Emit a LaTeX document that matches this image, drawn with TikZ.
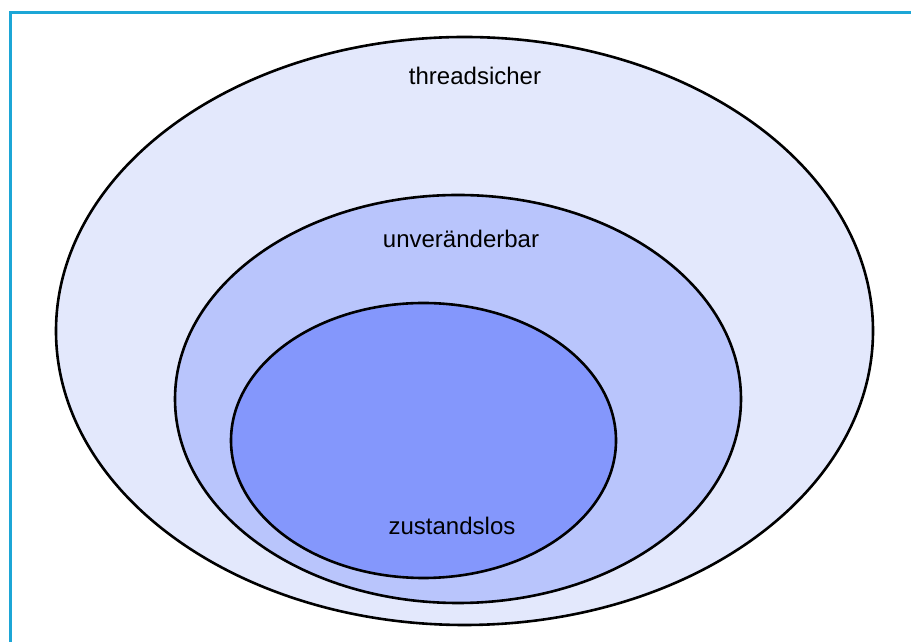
\documentclass[tikz,border=0pt]{standalone}
\usepackage{fontspec}
\setmainfont{Liberation Sans}
\usetikzlibrary{shapes.geometric}
\definecolor{frameblue}{RGB}{28,166,214}
\definecolor{setA}{RGB}{227,232,252}
\definecolor{setB}{RGB}{185,197,252}
\definecolor{setC}{RGB}{132,151,252}
\tikzset{
  setoval/.style={ellipse, draw=black, line width=2.6pt, inner sep=0pt},
  setlabel/.style={font=\fontsize{24}{28}\selectfont, text=black, inner sep=0pt},
}
\begin{document}
\begin{tikzpicture}[x=1pt,y=1pt]
\useasboundingbox (0,0) rectangle (911,642);
% frame of the figure
\draw[frameblue, line width=3pt] (10,0) -- (10,629) -- (911,629);
% nested sets
\node[setoval, fill=setA, minimum width=817, minimum height=588] (outer) at (464.5,311) {};
\node[setoval, fill=setB, minimum width=566, minimum height=408] (middle) at (458,243) {};
\node[setoval, fill=setC, minimum width=385, minimum height=275] (inner) at (423.5,201.5) {};
% set names
\node[setlabel] (lA) at (475,566) {threadsicher};
\node[setlabel] (lB) at (461,403) {unveränderbar};
\node[setlabel] (lC) at (452,116) {zustandslos};
\end{tikzpicture}
\end{document}
